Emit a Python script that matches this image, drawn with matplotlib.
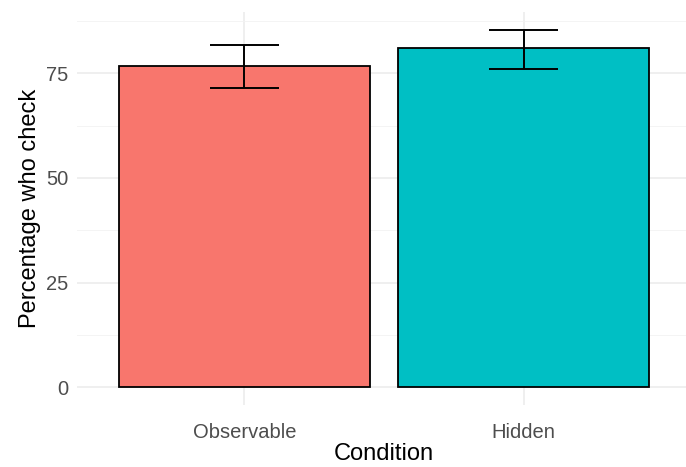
import matplotlib
matplotlib.use("Agg")
import matplotlib.pyplot as plt
from matplotlib.ticker import MultipleLocator
import numpy as np

conditions = ["Observable", "Hidden"]
percentages = [76.8, 81.0]
err_low = [71.6, 76.0]
err_high = [81.7, 85.4]
colors = ["#F8766D", "#00BFC4"]
y_ticks = [0, 25, 50, 75]

plt.rcParams['font.family'] = ['Liberation Sans', 'DejaVu Sans']

fig = plt.figure(figsize=(6.86, 4.67), dpi=100)
ax = fig.add_axes([77/686, 62/467, 614/686, 393/467])

x = np.arange(1, len(conditions) + 1)
ax.bar(x, percentages, width=0.9, color=colors, edgecolor="black", linewidth=1.3, zorder=2)
for xi, lo, hi in zip(x, err_low, err_high):
    ax.plot([xi, xi], [lo, hi], color="black", lw=1.4, zorder=3, solid_capstyle="butt")
    ax.plot([xi - 0.125, xi + 0.125], [lo, lo], color="black", lw=1.4, zorder=3, solid_capstyle="butt")
    ax.plot([xi - 0.125, xi + 0.125], [hi, hi], color="black", lw=1.4, zorder=3, solid_capstyle="butt")

ymax = max(err_high)
ax.set_ylim(-0.05 * ymax, ymax * 1.05)
ax.set_xlim(0.4, 2.6)
ax.set_xticks(x)
ax.set_xticklabels(conditions)
ax.set_yticks(y_ticks)
ax.yaxis.set_minor_locator(MultipleLocator(12.5))

ax.grid(True, which="major", color="#EBEBEB", lw=1.1, zorder=0)
ax.grid(True, which="minor", axis="y", color="#F2F2F2", lw=0.6, zorder=0)
ax.set_axisbelow(True)
for s in ax.spines.values():
    s.set_visible(False)
ax.tick_params(which="both", length=0, colors="#4D4D4D", labelsize=14.5, pad=6)
ax.tick_params(axis="x", pad=13)

ax.set_xlabel("Condition", fontsize=17, color="black", labelpad=1)
ax.set_ylabel("Percentage who check", fontsize=17, color="black", labelpad=4)

fig.savefig("out.png", dpi=100)
